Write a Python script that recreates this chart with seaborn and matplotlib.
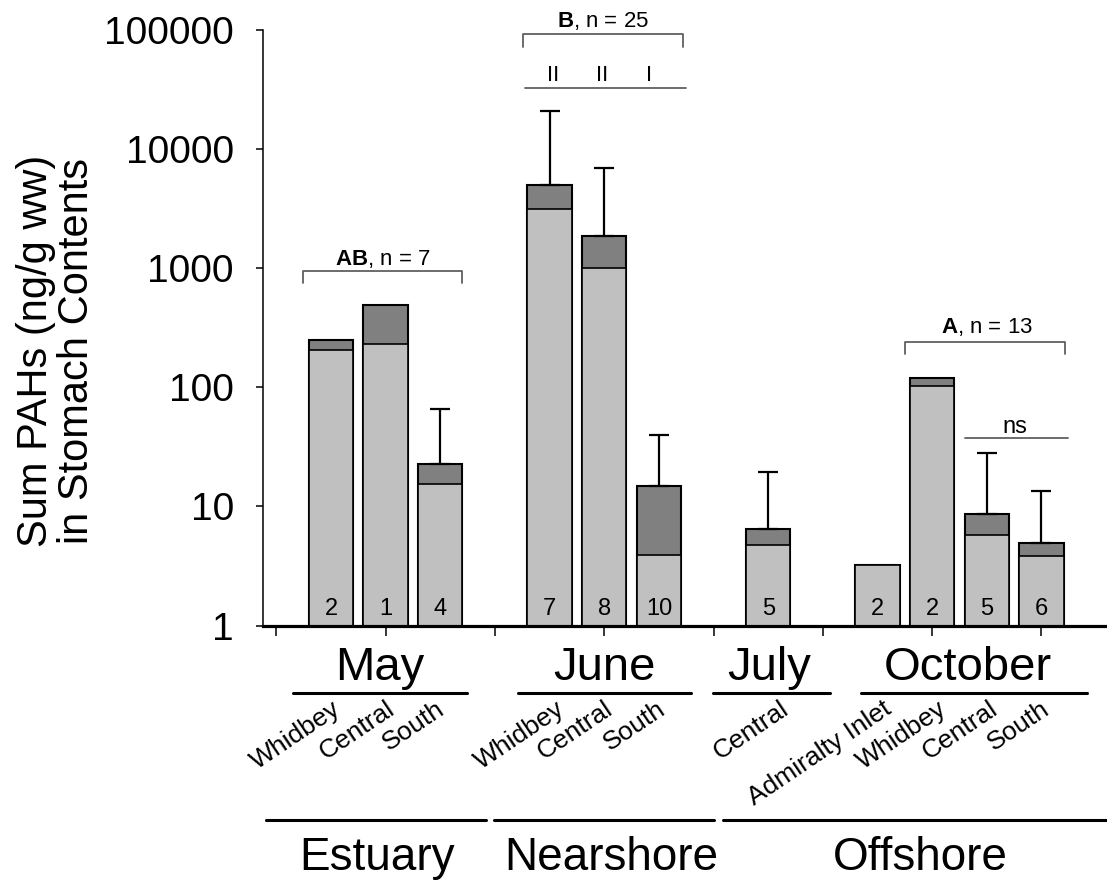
import numpy as np
import pandas as pd
import seaborn as sns
import matplotlib.pyplot as plt
from matplotlib import transforms
from matplotlib.ticker import NullLocator

# bar values
sites = ["Whidbey", "Central", "South", "Whidbey", "Central", "South", "Central",
         "Admiralty Inlet", "Whidbey", "Central", "South"]
positions = [0, 1, 2, 4, 5, 6, 8, 10, 11, 12, 13]
light_part = [205, 230, 15.5, 3150, 1000, 3.9, 4.75, 3.2, 102, 5.8, 3.8]
total = [250, 495, 22.5, 4950, 1880, 14.7, 6.5, 3.2, 120, 8.6, 4.9]
err_top = [np.nan, np.nan, 66, 21000, 7000, 40, 19.3, np.nan, np.nan, 28, 13.4]
n_fish = [2, 1, 4, 7, 8, 10, 5, 2, 2, 5, 6]

months = ["May", "June", "July", "October"]
month_spans = [(-0.695, 2.49), (3.42, 6.59), (6.99, 9.13), (9.70, 13.83)]
month_centers = [0.89, 5.0, 8.01, 11.66]
habitats = ["Estuary", "Nearshore", "Offshore"]
habitat_spans = [(-1.19, 2.84), (2.98, 7.0), (7.17, 14.3)]
habitat_centers = [0.84, 5.12, 10.78]
yticks = [1, 10, 100, 1000, 10000, 100000]

LIGHT = "#c0c0c0"
DARK = "#808080"
LINE_GRAY = "#606060"

sns.set_style("ticks")
plt.rcParams["font.family"] = ["Liberation Sans", "DejaVu Sans"]
plt.rcParams["text.color"] = "black"
plt.rcParams["axes.labelcolor"] = "black"
plt.rcParams["xtick.color"] = "black"
plt.rcParams["ytick.color"] = "black"
plt.rcParams["mathtext.fontset"] = "custom"
plt.rcParams["mathtext.rm"] = "Liberation Sans"
plt.rcParams["mathtext.bf"] = "Liberation Sans:bold"

fig = plt.figure(figsize=(11.07, 8.80), dpi=100)
ax = fig.add_axes([263 / 1107, 1 - 625.5 / 880, 1 - 263 / 1107, 595.5 / 880])

df = pd.DataFrame({"pos": positions, "total": total, "light": light_part})
sns.barplot(data=df, x="pos", y="total", native_scale=True, width=0.81, color=DARK,
            saturation=1, edgecolor="black", linewidth=1.5, errorbar=None, ax=ax)
sns.barplot(data=df, x="pos", y="light", native_scale=True, width=0.81, color=LIGHT,
            saturation=1, edgecolor="black", linewidth=1.2, errorbar=None, ax=ax)

# upper-only error bars
err = np.array(err_top)
tot = np.array(total)
has = ~np.isnan(err)
ax.errorbar(np.array(positions)[has], tot[has], yerr=[np.zeros(has.sum()), err[has] - tot[has]],
            fmt="none", ecolor="black", elinewidth=1.6, capsize=7, capthick=1.6, zorder=5)

ax.set_yscale("log")
ax.set_ylim(1, 1e5)
ax.set_xlim(-1.244, 14.2)
ax.set_yticks(yticks)
ax.set_yticklabels([str(t) for t in yticks], fontsize=28)
ax.yaxis.set_minor_locator(NullLocator())
ax.set_xticks([-1, 1, 3, 5, 7, 9, 11, 13])
ax.set_xticklabels([])
ax.set_xlabel("")
ax.set_ylabel("")
ax.tick_params(axis="y", length=5, width=1.1, pad=16, color="black")
ax.tick_params(axis="x", length=7, width=1.1, color="black")
sns.despine(ax=ax)
ax.spines["left"].set_linewidth(1.1)
ax.spines["left"].set_color("black")
ax.spines["bottom"].set_linewidth(2.3)
ax.spines["bottom"].set_color("black")

xa = ax.get_xaxis_transform()

# n per bar
for p, n in zip(positions, n_fish):
    ax.text(p, 0.0176, str(n), transform=xa, ha="center", va="baseline", fontsize=17)


def frac(ypx):
    return (625.5 - ypx) / 595.5


def bracket(x0, x1, y, ybot):
    ax.plot([x0, x0, x1, x1], [frac(ybot), frac(y), frac(y), frac(ybot)], transform=xa,
            color=LINE_GRAY, lw=1.3, clip_on=False)


bracket(-0.52, 2.40, 270.7, 283)
ax.text(0.94, frac(265), r"$\mathbf{AB}$, n = 7", transform=xa, ha="center", va="baseline", fontsize=16)
bracket(3.51, 6.45, 34, 46.7)
ax.text(4.98, frac(27), r"$\mathbf{B}$, n = 25", transform=xa, ha="center", va="baseline",
        fontsize=16, clip_on=False)
ax.plot([3.55, 6.5], [frac(88), frac(88)], transform=xa, color=LINE_GRAY, lw=1.3, clip_on=False)
for xr, lab in zip([4.06, 4.96, 5.82], ["II", "II", "I"]):
    ax.text(xr, frac(80.7), lab, transform=xa, ha="center", va="baseline", fontsize=16)
bracket(10.51, 13.44, 341.7, 354)
ax.text(12.0, frac(333.3), r"$\mathbf{A}$, n = 13", transform=xa, ha="center", va="baseline", fontsize=16)
ax.plot([11.6, 13.49], [frac(437.7), frac(437.7)], transform=xa, color=LINE_GRAY, lw=1.3)
ax.text(12.52, frac(433.3), "ns", transform=xa, ha="center", va="baseline", fontsize=17)

# labels under the axis
tf = transforms.blended_transform_factory(ax.transData, fig.transFigure)
label_nudge = [0.004, 0.005, -0.086, 0.115, -0.013, -0.053, 0.204, 0.09, 0.092, 0.024, -0.015]
for p, s, dx in zip(positions, sites, label_nudge):
    fig.text(p + dx, 1 - 697 / 880, s, transform=tf, ha="right", va="top", rotation=34,
             rotation_mode="anchor", fontsize=19)
for m, (a, b), c in zip(months, month_spans, month_centers):
    fig.text(c, 1 - 680 / 880, m, transform=tf, ha="center", va="baseline", fontsize=34)
    fig.add_artist(plt.Line2D([a, b], [1 - 693 / 880] * 2, transform=tf, color="black", lw=2.2))
for h, (a, b), c in zip(habitats, habitat_spans, habitat_centers):
    fig.text(c, 1 - 870 / 880, h, transform=tf, ha="center", va="baseline", fontsize=33)
    fig.add_artist(plt.Line2D([a, b], [1 - 820 / 880] * 2, transform=tf, color="black", lw=2.2))

fig.text(0.051, 1 - 351 / 880, "Sum PAHs (ng/g ww)\nin Stomach Contents", rotation=90,
         ha="center", va="center", multialignment="center", fontsize=30, linespacing=1.05)

fig.savefig("out.png", dpi=100)
